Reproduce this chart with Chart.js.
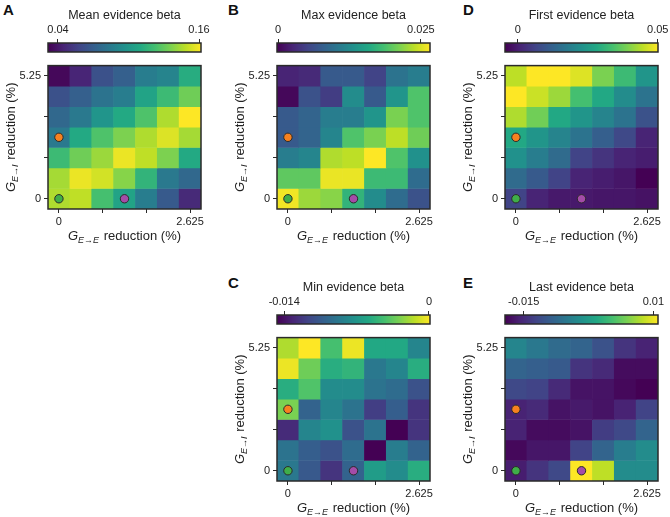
<!DOCTYPE html>
<html>
<head>
<meta charset="utf-8">
<script src="https://cdn.jsdelivr.net/npm/chart.js@4"></script>
<style>
  body { margin: 0; background: #fff; }
  #wrap { position: relative; width: 670px; height: 517px; overflow: hidden; }
  canvas { position: absolute; }
  .letter { position: absolute; font: bold 15px "Liberation Sans", Arial, sans-serif; color: #111; }
</style>
</head>
<body>
<div id="wrap"></div>
<script>
// grid axes (reduction, %)
const xLabels = ['0', '0.4375', '0.875', '1.3125', '1.75', '2.1875', '2.625'];
const yValues = [5.25, 4.375, 3.5, 2.625, 1.75, 0.875, 0]; // rows, top to bottom
const yTicks = [0, 1.75, 3.5, 5.25];

// cell values, rows top (5.25) to bottom (0)
const meanBeta = [
  [0.034, 0.045, 0.064, 0.071, 0.086, 0.090, 0.112],
  [0.064, 0.071, 0.081, 0.086, 0.107, 0.120, 0.133],
  [0.075, 0.084, 0.099, 0.110, 0.125, 0.146, 0.162],
  [0.084, 0.110, 0.125, 0.136, 0.146, 0.155, 0.144],
  [0.120, 0.133, 0.142, 0.158, 0.149, 0.136, 0.110],
  [0.144, 0.158, 0.153, 0.138, 0.116, 0.084, 0.075],
  [0.146, 0.149, 0.123, 0.107, 0.086, 0.068, 0.047]
];
const maxBeta = [
  [0.0025, 0.0030, 0.0073, 0.0073, 0.0052, 0.0100, 0.0111],
  [0.0003, 0.0065, 0.0046, 0.0127, 0.0073, 0.0137, 0.0191],
  [0.0073, 0.0084, 0.0111, 0.0111, 0.0137, 0.0212, 0.0191],
  [0.0073, 0.0084, 0.0119, 0.0191, 0.0212, 0.0239, 0.0207],
  [0.0111, 0.0119, 0.0234, 0.0239, 0.0266, 0.0191, 0.0132],
  [0.0199, 0.0199, 0.0258, 0.0258, 0.0180, 0.0180, 0.0092],
  [0.0261, 0.0226, 0.0218, 0.0172, 0.0127, 0.0092, 0.0065]
];
const firstBeta = [
  [0.0446, 0.0501, 0.0501, 0.0474, 0.0392, 0.0326, 0.0238],
  [0.0501, 0.0457, 0.0419, 0.0337, 0.0282, 0.0217, 0.0162],
  [0.0435, 0.0381, 0.0282, 0.0238, 0.0200, 0.0162, 0.0091],
  [0.0282, 0.0238, 0.0200, 0.0162, 0.0118, 0.0074, 0.0009],
  [0.0228, 0.0184, 0.0145, 0.0063, 0.0036, 0.0009, -0.0002],
  [0.0145, 0.0107, 0.0063, 0.0009, -0.0002, -0.0013, -0.0046],
  [0.0063, 0.0009, -0.0008, -0.0008, -0.0013, -0.0013, -0.0019]
];
const minBeta = [
  [-0.0017, 0.0001, -0.0043, -0.0003, -0.0058, -0.0058, -0.0080],
  [-0.0003, -0.0032, -0.0055, -0.0051, -0.0088, -0.0080, -0.0055],
  [-0.0055, -0.0040, -0.0076, -0.0076, -0.0091, -0.0095, -0.0110],
  [-0.0029, -0.0100, -0.0080, -0.0091, -0.0120, -0.0103, -0.0125],
  [-0.0129, -0.0080, -0.0073, -0.0110, -0.0091, -0.0147, -0.0125],
  [-0.0091, -0.0103, -0.0110, -0.0095, -0.0147, -0.0085, -0.0100],
  [-0.0088, -0.0106, -0.0125, -0.0100, -0.0066, -0.0076, -0.0055]
];
const lastBeta = [
  [-0.0053, -0.0068, -0.0083, -0.0092, -0.0112, -0.0142, -0.0157],
  [-0.0092, -0.0098, -0.0103, -0.0142, -0.0151, -0.0177, -0.0177],
  [-0.0121, -0.0127, -0.0151, -0.0171, -0.0171, -0.0180, -0.0186],
  [-0.0157, -0.0151, -0.0171, -0.0165, -0.0171, -0.0157, -0.0127],
  [-0.0157, -0.0177, -0.0177, -0.0171, -0.0133, -0.0121, -0.0092],
  [-0.0180, -0.0168, -0.0168, -0.0127, -0.0092, -0.0062, -0.0044],
  [-0.0162, -0.0142, -0.0121, 0.0109, 0.0080, -0.0044, -0.0044]
];

// colour bar limits and ticks
const meanRange = [0.0315, 0.1617], meanTicks = [0.04, 0.16], meanTickLabels = ['0.04', '0.16'];
const maxRange = [-0.0002, 0.0266], maxTicks = [0, 0.025], maxTickLabels = ['0', '0.025'];
const firstRange = [-0.0046, 0.0501], firstTicks = [0, 0.05], firstTickLabels = ['0', '0.05'];
const minRange = [-0.0147, 0.0001], minTicks = [-0.014, 0], minTickLabels = ['-0.014', '0'];
const lastRange = [-0.0186, 0.0109], lastTicks = [-0.015, 0.01], lastTickLabels = ['-0.015', '0.01'];

// marked parameter sets
const markers = [
  {x: '0', y: 2.625, color: '#f7811f'},
  {x: '0', y: 0, color: '#3fae49'},
  {x: '1.3125', y: 0, color: '#a44ca8'}
];

const viridis = ['#440154', '#482475', '#414487', '#355f8d', '#2a788e', '#21918c',
                 '#22a884', '#44bf70', '#7ad151', '#bddf26', '#fde725'];

function hexRgb(h) {
  return [1, 3, 5].map(i => parseInt(h.substr(i, 2), 16));
}
function cmap(t) {
  t = Math.max(0, Math.min(1, t));
  let p = t * (viridis.length - 1);
  let i = Math.min(Math.floor(p), viridis.length - 2);
  let f = p - i;
  let a = hexRgb(viridis[i]), b = hexRgb(viridis[i + 1]);
  let c = a.map((v, k) => Math.round(v + (b[k] - v) * f));
  return `rgb(${c[0]},${c[1]},${c[2]})`;
}

Chart.defaults.font.family = '"Liberation Sans", Arial, sans-serif';
Chart.defaults.font.size = 11;
Chart.defaults.color = '#222';
Chart.defaults.animation = false;

const INK = '#2a2a2a';
const PW = 153, PH = 153;
const wrap = document.getElementById('wrap');

function addCanvas(left, top, w, h) {
  let c = document.createElement('canvas');
  c.width = w; c.height = h;
  c.style.left = left + 'px'; c.style.top = top + 'px';
  c.style.width = w + 'px'; c.style.height = h + 'px';
  wrap.appendChild(c);
  return c;
}

const framePlugin = {
  id: 'frame',
  afterDatasetsDraw(chart) {
    let {ctx, chartArea: a} = chart;
    ctx.save();
    ctx.strokeStyle = INK;
    ctx.lineWidth = 1.5;
    ctx.strokeRect(a.left, a.top, a.right - a.left, a.bottom - a.top);
    ctx.restore();
  }
};

// draws "G_{sub} reduction (%)" with an italic G and subscript
function drawAxisTitle(ctx, sub, cx, cy, rotate) {
  ctx.save();
  ctx.translate(cx, cy);
  if (rotate) ctx.rotate(-Math.PI / 2);
  let big = 'italic 13px "Liberation Sans", Arial, sans-serif';
  let small = 'italic 9px "Liberation Sans", Arial, sans-serif';
  let rest = '13px "Liberation Sans", Arial, sans-serif';
  ctx.font = big; let wG = ctx.measureText('G').width;
  ctx.font = small; let wS = ctx.measureText(sub).width;
  ctx.font = rest; let wR = ctx.measureText(' reduction (%)').width;
  let x = -(wG + wS + 1 + wR) / 2;
  ctx.fillStyle = '#222';
  ctx.textBaseline = 'middle';
  ctx.textAlign = 'left';
  ctx.font = big; ctx.fillText('G', x, 0); x += wG;
  ctx.font = small; ctx.fillText(sub, x, 4); x += wS + 1;
  ctx.font = rest; ctx.fillText(' reduction (%)', x, 0);
  ctx.restore();
}

function heatmap(L, T, values, cRange) {
  let canvas = addCanvas(L - 48, T, 48 + PW + 12, PH + 42);
  let datasets = yValues.map((yv, r) => ({
    type: 'bar',
    data: xLabels.map(() => [yv - 0.4375, yv + 0.4375]),
    backgroundColor: values[r].map(v => cmap((v - cRange[0]) / (cRange[1] - cRange[0]))),
    borderWidth: 0,
    grouped: false,
    barPercentage: 1,
    categoryPercentage: 1,
    order: 2
  }));
  markers.forEach(m => datasets.push({
    type: 'line',
    data: [{x: m.x, y: m.y}],
    showLine: false,
    pointRadius: 4.2,
    pointBackgroundColor: m.color,
    pointBorderColor: INK,
    pointBorderWidth: 1,
    order: 0
  }));
  const tickCol = c => (c.index % 2 === 0 ? INK : 'rgba(0,0,0,0)');
  new Chart(canvas, {
    type: 'bar',
    data: {labels: xLabels, datasets},
    options: {
      responsive: false,
      layout: {padding: {left: 0, right: 12, top: 0, bottom: 0}},
      plugins: {legend: {display: false}, tooltip: {enabled: false}},
      scales: {
        x: {
          type: 'category',
          offset: true,
          border: {display: false},
          grid: {offset: false, drawOnChartArea: false, tickLength: 4, color: tickCol, tickColor: tickCol, lineWidth: 1},
          ticks: {
            autoSkip: false, maxRotation: 0, padding: 2,
            callback: (v, i) => (i === 0 || i === xLabels.length - 1 ? xLabels[i] : '')
          },
          afterFit: s => { s.height = 42; }
        },
        y: {
          type: 'linear',
          min: -0.4375, max: 5.6875,
          border: {display: false},
          grid: {drawOnChartArea: false, tickLength: 4, color: INK, lineWidth: 1},
          afterBuildTicks: s => { s.ticks = yTicks.map(v => ({value: v})); },
          ticks: {
            padding: 3,
            callback: v => (v === 0 ? '0' : v === 5.25 ? '5.25' : '')
          },
          afterFit: s => { s.width = 48; }
        }
      }
    },
    plugins: [framePlugin, {
      id: 'axisTitles',
      afterDraw(chart) {
        let a = chart.chartArea, ctx = chart.ctx;
        drawAxisTitle(ctx, 'E\u2192E', (a.left + a.right) / 2, a.bottom + 27, false);
        drawAxisTitle(ctx, 'E\u2192I', a.left - 37, (a.top + a.bottom) / 2, true);
      }
    }]
  });
}

function colorbar(L, T, title, cRange, ticks, tickLabels) {
  let canvas = addCanvas(L - 20, T - 56, PW + 40, 54);
  new Chart(canvas, {
    type: 'scatter',
    data: {datasets: [{data: []}]},
    options: {
      responsive: false,
      layout: {padding: {left: 20, right: 20, top: 0, bottom: 2}},
      plugins: {
        legend: {display: false},
        tooltip: {enabled: false},
        title: {
          display: true, text: title, color: '#222',
          font: {size: 12.5, weight: 'normal'},
          padding: {top: 8, bottom: 0}
        }
      },
      scales: {
        x: {
          type: 'linear', position: 'top',
          min: cRange[0], max: cRange[1],
          border: {display: false},
          grid: {drawOnChartArea: false, tickLength: 4, color: INK},
          afterBuildTicks: s => { s.ticks = ticks.map(v => ({value: v})); },
          ticks: {padding: 2, callback: (v, i) => tickLabels[i]},
          afterFit: s => { s.height = 20; }
        },
        y: {display: false, min: 0, max: 1}
      }
    },
    plugins: [{
      id: 'gradient',
      beforeDatasetsDraw(chart) {
        let {ctx, chartArea: a} = chart;
        let g = ctx.createLinearGradient(a.left, 0, a.right, 0);
        viridis.forEach((c, i) => g.addColorStop(i / (viridis.length - 1), c));
        ctx.save();
        ctx.fillStyle = g;
        ctx.fillRect(a.left, a.top, a.right - a.left, a.bottom - a.top);
        ctx.restore();
      }
    }, framePlugin]
  });
}

function letter(ch, x, y) {
  let d = document.createElement('div');
  d.className = 'letter';
  d.textContent = ch;
  d.style.left = x + 'px'; d.style.top = y + 'px';
  wrap.appendChild(d);
}

const panels = [
  {k: 'A', L: 48, T: 56, title: 'Mean evidence beta', vals: meanBeta, range: meanRange, ticks: meanTicks, labels: meanTickLabels, lx: 3, ly: 1},
  {k: 'B', L: 277, T: 56, title: 'Max evidence beta', vals: maxBeta, range: maxRange, ticks: maxTicks, labels: maxTickLabels, lx: 228, ly: 1},
  {k: 'D', L: 505, T: 56, title: 'First evidence beta', vals: firstBeta, range: firstRange, ticks: firstTicks, labels: firstTickLabels, lx: 463, ly: 1},
  {k: 'C', L: 277, T: 328, title: 'Min evidence beta', vals: minBeta, range: minRange, ticks: minTicks, labels: minTickLabels, lx: 228, ly: 274},
  {k: 'E', L: 505, T: 328, title: 'Last evidence beta', vals: lastBeta, range: lastRange, ticks: lastTicks, labels: lastTickLabels, lx: 463, ly: 274}
];

panels.forEach(p => {
  heatmap(p.L, p.T, p.vals, p.range);
  colorbar(p.L, p.T, p.title, p.range, p.ticks, p.labels);
  letter(p.k, p.lx, p.ly);
});
</script>
</body>
</html>
